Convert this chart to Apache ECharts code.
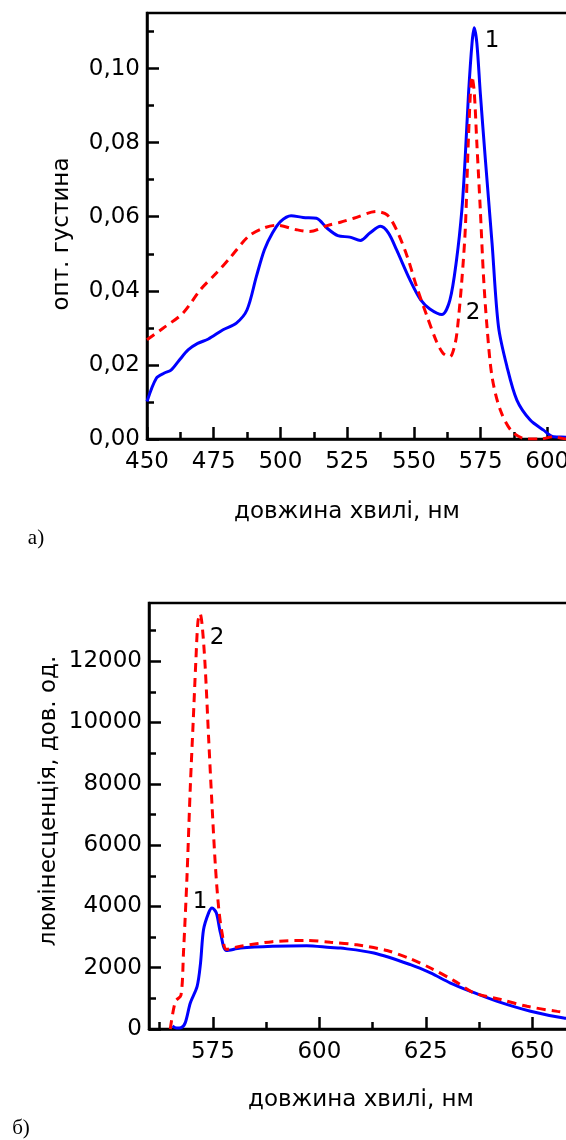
<!DOCTYPE html>
<html>
<head>
<meta charset="utf-8">
<script src="https://cdn.jsdelivr.net/npm/echarts@6/dist/echarts.min.js"></script>
<style>
  html, body { margin: 0; padding: 0; background: #fff; }
  #chart { width: 566px; height: 1140px; }
</style>
</head>
<body>
<div id="chart"></div>
<script>
// а) оптична густина
const absWl1 = [450, 453.5, 456.5, 459, 462, 465.5, 469, 473, 478.5, 483.5, 487.5, 491, 494, 497, 500, 504, 508.5, 513.5, 517.5, 521.5, 526, 530, 533.5, 537.5, 540.5, 543.5, 548.5, 552.5, 556, 560.5, 563.5, 566, 568, 569.2, 570.5, 571.8, 572.6, 573.6, 574.9, 576.8, 579.3, 581.7, 584.9, 588.6, 593.6, 598.6, 602.4, 607, 612]
const absOd1 = [0.0101, 0.0164, 0.0178, 0.0186, 0.0212, 0.0241, 0.0258, 0.027, 0.0295, 0.0313, 0.0349, 0.0439, 0.0511, 0.0556, 0.0587, 0.0603, 0.0598, 0.0596, 0.0569, 0.0549, 0.0545, 0.0536, 0.0556, 0.0574, 0.0556, 0.0511, 0.043, 0.0376, 0.0351, 0.0336, 0.0375, 0.0484, 0.0619, 0.0754, 0.0934, 0.1069, 0.111, 0.1069, 0.0934, 0.0754, 0.0529, 0.0304, 0.0195, 0.0105, 0.0051, 0.0024, 0.0006, 0.0005, 0.0003]
const absWl2 = [450, 456, 463.5, 470, 476, 481, 488, 493.5, 498.5, 506, 511, 517.5, 522.5, 527.5, 536, 540, 543.5, 547.5, 551, 555, 558.5, 561, 563.5, 565.5, 566.5, 568, 569.3, 570.5, 571.8, 572.6, 573.6, 574.9, 576.1, 577.4, 579.3, 582.4, 586.8, 592.4, 597.4, 602.4, 607, 612]
const absOd2 = [0.0268, 0.0299, 0.034, 0.0403, 0.0448, 0.0488, 0.0547, 0.0569, 0.0577, 0.0565, 0.056, 0.0576, 0.0585, 0.0596, 0.0614, 0.0605, 0.0565, 0.0493, 0.0412, 0.033, 0.0263, 0.0231, 0.0222, 0.0259, 0.031, 0.043, 0.057, 0.082, 0.0979, 0.094, 0.0799, 0.0619, 0.0439, 0.0304, 0.0168, 0.0078, 0.002, 0, 0, 0.0006, 0, 0]

// б) люмінесценція
const lumWl1 = [565.5, 566.5, 567.5, 568.5, 569.7, 571.3, 572.1, 572.8, 574, 574.8, 575.8, 576.8, 578.2, 581.5, 589, 597, 602.6, 605, 612.8, 621.4, 626.1, 630.8, 635.5, 641.8, 649.6, 657.4, 665, 675]
const lumInt1 = [100, 30, 40, 200, 850, 1390, 2150, 3240, 3790, 3950, 3790, 3130, 2560, 2640, 2700, 2720, 2660, 2640, 2480, 2100, 1830, 1500, 1230, 900, 580, 360, 250, 150]
const lumWl2 = [565, 566.2, 567.5, 568.1, 568.9, 569.7, 570.4, 571, 571.5, 572, 572.5, 573.2, 574, 574.8, 575.6, 576.4, 577.2, 578.2, 581.5, 589, 597, 602.6, 608.8, 615.9, 621.4, 626.1, 631.6, 636.3, 642.6, 648.8, 655.9, 665, 675]
const lumInt2 = [0, 900, 1100, 2500, 4900, 7900, 10100, 12000, 13300, 13550, 13150, 11800, 9500, 7300, 5300, 3900, 3100, 2600, 2700, 2850, 2890, 2830, 2750, 2560, 2290, 1990, 1580, 1180, 960, 740, 575, 450, 330]

// ticks
const topXMajor = [450, 475, 500, 525, 550, 575, 600, 625]
const topXMinor = [462.5, 487.5, 512.5, 537.5, 562.5, 587.5, 612.5]
const topYMajor = [0, 0.02, 0.04, 0.06, 0.08, 0.10]
const topYMinor = [0.01, 0.03, 0.05, 0.07, 0.09, 0.11]
const botXMajor = [575, 600, 625, 650, 675]
const botXMinor = [562.5, 587.5, 612.5, 637.5, 662.5]
const botYMajor = [0, 2000, 4000, 6000, 8000, 10000, 12000]
const botYMinor = [1000, 3000, 5000, 7000, 9000, 11000, 13000]

const FONT = 'DejaVu Sans'
const zip = (xs, ys) => xs.map((x, i) => [x, ys[i]])

const makeAxes = (dim, gridIndex, min, max, major, minor, fmt, margin) => {
  const pos = dim === 'x' ? 'bottom' : 'left'
  return [
    {
      type: 'value', gridIndex, min, max, position: pos,
      axisLine: { show: true, onZero: false, lineStyle: { color: '#000', width: 2.5 } },
      axisTick: { show: true, inside: true, length: 12, customValues: major, lineStyle: { color: '#000', width: 2.5 } },
      axisLabel: { customValues: major, formatter: fmt, color: '#000', fontFamily: FONT, fontSize: 23, margin },
      splitLine: { show: false }
    },
    {
      type: 'value', gridIndex, min, max, position: pos,
      axisLine: { show: false, onZero: false },
      axisTick: { show: true, inside: true, length: 7, customValues: minor, lineStyle: { color: '#000', width: 2.5 } },
      axisLabel: { show: false },
      splitLine: { show: false }
    }
  ]
}

const odFmt = v => v.toFixed(2).replace('.', ',')
const intFmt = v => String(Math.round(v))

const lineSeries = (data, xi, color, dashed) => ({
  type: 'line',
  data,
  xAxisIndex: xi,
  yAxisIndex: xi,
  showSymbol: false,
  smooth: 0.3,
  clip: true,
  lineStyle: { color, width: 3, type: dashed ? [9, 6] : 'solid' },
  z: dashed ? 3 : 2
})

const txt = (text, x, y, size, font, rot) => ({
  type: 'text', x, y, rotation: rot || 0,
  style: { text, fill: '#000', font: size + 'px "' + font + '"', textAlign: 'center', textVerticalAlign: 'middle' }
})

const chart = echarts.init(document.getElementById('chart'))

chart.setOption({
  animation: false,
  backgroundColor: '#fff',
  grid: [
    { left: 147, top: 13, width: 467, height: 426, outerBoundsMode: 'none', containLabel: false, show: true, borderColor: '#000', borderWidth: 2.5 },
    { left: 149, top: 603, width: 511, height: 426, outerBoundsMode: 'none', containLabel: false, show: true, borderColor: '#000', borderWidth: 2.5 }
  ],
  xAxis: [
    ...makeAxes('x', 0, 450, 625, topXMajor, topXMinor, intFmt, 12),
    ...makeAxes('x', 1, 560, 680, botXMajor, botXMinor, intFmt, 12)
  ],
  yAxis: [
    ...makeAxes('y', 0, 0, 0.115, topYMajor, topYMinor, odFmt, 7),
    ...makeAxes('y', 1, 0, 13900, botYMajor, botYMinor, intFmt, 7)
  ],
  series: [
    lineSeries(zip(absWl1, absOd1), 0, '#0000ff', false),
    lineSeries(zip(absWl2, absOd2), 0, '#ff0000', true),
    lineSeries(zip(lumWl1, lumInt1), 2, '#0000ff', false),
    lineSeries(zip(lumWl2, lumInt2), 2, '#ff0000', true)
  ],
  graphic: [
    txt('опт. густина', 62, 234, 23, FONT, Math.PI / 2),
    txt('довжина хвилі, нм', 347, 512, 23, FONT),
    txt('а)', 36, 538, 21, 'Liberation Serif'),
    txt('1', 492, 41, 23, FONT),
    txt('2', 473, 313, 23, FONT),
    txt('люмінесценція, дов. од.', 49, 801, 23, FONT, Math.PI / 2),
    txt('довжина хвилі, нм', 361, 1100, 23, FONT),
    txt('б)', 21, 1128, 21, 'Liberation Serif'),
    txt('2', 217, 638, 23, FONT),
    txt('1', 200, 902, 23, FONT)
  ]
})
</script>
</body>
</html>
